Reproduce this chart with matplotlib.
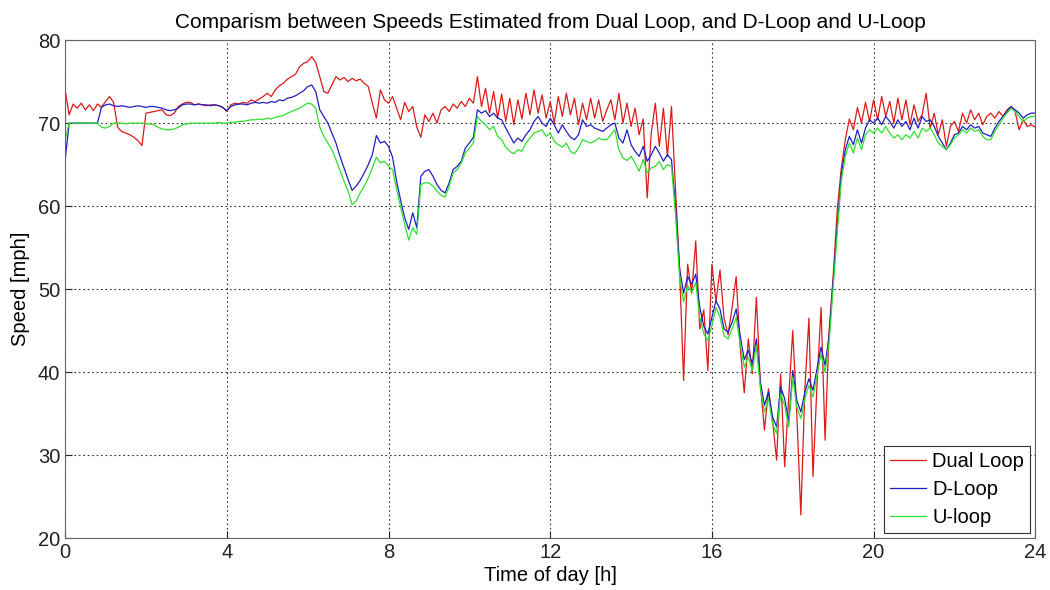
import numpy as np
import matplotlib.pyplot as plt

# time axis, one sample every 0.1 h
hours = np.round(np.arange(0, 24.05, 0.1), 1)

dual_loop = [
    74.0, 71.0, 72.3, 71.8, 72.4, 71.6, 72.2, 71.5, 72.3, 71.9,
    72.6, 73.2, 72.5, 69.5, 69.0, 68.8, 68.6, 68.3, 67.9, 67.3,
    71.2, 71.3, 71.4, 71.5, 71.6, 71.0, 70.9, 71.2, 72.0, 72.3,
    72.5, 72.5, 72.2, 72.3, 72.2, 72.1, 72.2, 72.2, 72.1, 71.9,
    71.4, 72.2, 72.4, 72.3, 72.5, 72.4, 72.8, 72.6, 72.9, 73.2,
    73.6, 73.2, 74.0, 74.5, 74.8, 75.3, 75.6, 75.9, 76.8, 77.2,
    77.4, 78.0, 77.3, 75.6, 73.8, 73.6, 74.6, 75.6, 75.2, 75.5,
    75.0, 75.4, 75.1, 75.3, 74.8, 74.4, 72.4, 70.6, 74.0, 72.8,
    72.4, 73.2, 71.8, 70.4, 72.5, 71.4, 72.0, 69.5, 68.3, 71.0,
    70.2, 71.2, 70.0, 71.6, 72.0, 71.4, 72.3, 71.8, 72.6, 72.0,
    73.0, 72.4, 75.6, 72.0, 74.2, 71.2, 73.8, 70.6, 73.5, 70.2,
    73.0, 69.8, 72.8, 70.5, 73.6, 71.0, 74.0, 71.2, 73.4, 70.6,
    72.6, 70.0, 73.2, 70.8, 73.6, 71.0, 73.0, 69.8, 72.4, 70.4,
    73.0, 70.6, 72.8, 70.2, 71.6, 72.8, 70.4, 73.6, 70.0, 72.4,
    69.6, 71.8, 68.6, 70.5, 61.0, 68.8, 72.4, 67.2, 71.8, 66.0,
    72.0, 62.0, 52.5, 39.0, 53.0, 49.5, 55.8, 45.2, 47.5, 40.2,
    53.0, 48.5, 52.3, 46.5, 44.5, 47.8, 51.5, 43.0, 37.5, 44.0,
    39.8, 49.0, 38.5, 33.0, 38.0, 34.2, 29.4, 39.8, 28.6, 37.0,
    45.0, 35.0, 22.8, 38.0, 46.5, 27.4, 38.5, 47.8, 31.8, 45.0,
    51.5, 59.5, 64.5, 68.0, 70.5, 69.2, 71.9, 70.0, 72.5, 70.2,
    72.8, 70.4, 73.2, 70.8, 72.6, 70.0, 73.0, 70.4, 72.8, 69.8,
    72.2, 70.2, 71.0, 73.6, 69.4, 71.2, 68.6, 70.4, 67.2, 69.6,
    70.2, 69.0, 71.2, 70.0, 71.6, 70.4, 71.2, 69.8, 70.8, 71.2,
    70.6, 71.4, 70.8, 71.6, 72.0, 71.4, 69.2, 70.4, 69.6, 69.8,
    69.5,
]

d_loop = [
    65.5, 70.0, 70.0, 70.0, 70.0, 70.0, 70.0, 70.0, 70.0, 71.9,
    72.2, 72.3, 72.1, 72.0, 72.1, 72.0, 71.9, 72.0, 72.1, 72.0,
    71.9, 72.0, 72.0, 71.9, 71.8, 71.6, 71.5, 71.6, 71.8, 72.2,
    72.3, 72.3, 72.2, 72.3, 72.2, 72.2, 72.1, 72.2, 72.1, 71.9,
    71.5, 72.0, 72.2, 72.3, 72.3, 72.2, 72.4, 72.5, 72.4, 72.5,
    72.4, 72.6, 72.5, 72.8, 72.7, 73.0, 73.1, 73.3, 73.6, 73.9,
    74.4, 74.6, 73.8, 71.6, 70.8, 70.0, 68.8, 67.6, 66.0, 64.6,
    63.2, 61.9, 62.4, 63.1, 64.0, 65.0, 66.2, 68.5, 67.6, 67.8,
    67.2, 65.9, 63.0, 60.7, 58.6, 57.2, 59.2, 57.4, 63.6, 64.2,
    64.4, 63.6, 62.6, 61.9, 61.6, 62.8, 64.4, 64.8, 65.4, 67.0,
    67.6, 68.3, 71.6, 71.2, 71.5, 70.8, 71.2, 70.6, 70.4, 69.4,
    68.5, 67.6, 68.2, 67.8, 68.6, 69.2, 70.2, 70.8, 70.0, 69.6,
    70.6, 69.8, 68.8, 69.8, 69.0, 68.3, 68.0, 68.6, 70.4, 69.6,
    69.8, 69.4, 69.2, 69.0, 69.4, 69.8, 70.0, 68.2, 67.6, 69.2,
    67.4, 66.6, 66.0, 67.2, 65.4, 66.2, 67.2, 66.4, 65.4, 66.2,
    65.6, 60.0, 52.5, 49.5, 51.5, 50.6, 51.8, 47.8, 45.5, 44.6,
    46.6, 48.6, 47.6, 45.2, 44.8, 46.0, 47.6, 44.4, 41.5, 42.6,
    41.0, 44.0, 38.8, 36.0, 37.6, 34.6, 33.4, 38.2, 36.8, 34.0,
    40.2, 36.6, 35.2, 37.6, 39.2, 37.8, 40.4, 43.0, 40.8, 44.5,
    51.0, 57.5, 63.8, 66.8, 68.4, 67.4, 69.2, 67.6, 69.4, 70.4,
    70.0, 70.6, 69.8, 70.8, 70.2, 69.4, 70.4, 69.6, 70.2, 69.2,
    70.6, 69.4, 70.8, 70.2, 70.4, 69.6, 68.4, 67.6, 66.8, 67.6,
    68.6, 68.8, 69.6, 69.2, 69.8, 69.4, 69.6, 68.8, 68.6, 68.4,
    69.4, 70.2, 70.8, 71.4, 72.0, 71.6, 71.2, 70.6, 71.0, 71.2,
    71.2,
]

u_loop = [
    68.0, 70.0, 70.0, 70.0, 70.0, 70.0, 70.0, 70.0, 70.0, 69.5,
    69.4, 69.6, 70.0, 70.0, 70.0, 69.9, 70.0, 70.0, 70.0, 70.0,
    69.9, 69.9, 69.8, 69.5, 69.3, 69.2, 69.2, 69.3, 69.5, 69.8,
    69.9, 70.0, 70.0, 70.0, 70.0, 70.0, 70.0, 70.0, 70.1, 70.0,
    70.0, 70.1, 70.1, 70.2, 70.2, 70.3, 70.4, 70.4, 70.5, 70.4,
    70.6, 70.5, 70.7, 70.8, 70.9, 71.2, 71.4, 71.6, 71.8, 72.1,
    72.4, 72.3, 71.8, 69.5, 68.4, 67.6, 66.8, 65.6, 64.3, 63.0,
    61.8, 60.2, 60.6, 61.6, 62.4, 63.4, 64.6, 65.9, 65.2, 65.4,
    64.8, 64.4, 62.0, 59.9, 57.8, 55.9, 57.4, 56.6, 62.6, 62.8,
    62.8, 62.4, 61.8, 61.3, 61.1, 62.4, 64.0, 64.4, 65.2, 66.4,
    67.0, 67.6, 70.8, 70.2, 69.8, 69.2, 69.6, 68.4, 68.0, 67.1,
    66.6, 66.3, 66.8, 66.6, 67.6, 68.2, 68.8, 69.0, 69.2, 68.4,
    68.8, 67.8, 67.4, 67.1, 67.6, 66.6, 66.3, 67.0, 68.0, 67.8,
    67.6, 67.8, 68.2, 68.0, 68.0, 68.6, 69.2, 66.8, 65.8, 65.5,
    66.0, 65.2, 64.2, 65.6, 64.0, 64.6, 64.8, 65.4, 64.4, 65.0,
    64.8, 59.0, 51.5, 48.5, 50.4, 49.6, 50.8, 46.6, 44.6, 43.8,
    45.6, 47.8, 46.6, 44.4, 44.0, 45.2, 46.6, 43.4, 40.6, 41.8,
    40.2, 43.2, 38.0, 35.2, 36.8, 33.8, 32.6, 37.4, 36.0, 33.4,
    39.4, 35.8, 34.4, 36.8, 38.4, 37.0, 39.6, 42.2, 40.0, 43.6,
    50.2, 56.8, 63.0, 66.0, 67.6, 66.4, 68.2, 66.8, 68.6, 69.2,
    68.8, 69.4, 68.8, 69.6, 68.8, 68.2, 68.6, 68.0, 68.6, 68.2,
    69.0, 68.2, 69.4, 69.0, 69.4, 68.6, 67.6, 67.2, 66.8, 67.4,
    68.2, 68.6, 69.2, 68.8, 69.4, 69.0, 69.2, 68.4, 68.0, 68.0,
    69.0, 69.8, 70.6, 71.2, 71.8, 71.4, 70.8, 70.2, 70.6, 70.8,
    70.8,
]

x_ticks = [0, 4, 8, 12, 16, 20, 24]
y_ticks = [20, 30, 40, 50, 60, 70, 80]

plt.rcParams['font.family'] = ['Liberation Sans', 'DejaVu Sans']

fig = plt.figure(figsize=(10.5, 5.9), dpi=100)
ax = fig.add_axes([0.062, 0.088, 0.924, 0.844])

ax.plot(hours, dual_loop, color='#dc1a1a', lw=0.9, label='Dual Loop')
ax.plot(hours, d_loop, color='#1f1fc4', lw=0.9, label='D-Loop')
ax.plot(hours, u_loop, color='#2ee02e', lw=0.9, label='U-loop')

ax.set_xlim(0, 24)
ax.set_ylim(20, 80)
ax.set_xticks(x_ticks)
ax.set_yticks(y_ticks)
ax.tick_params(direction='in', length=5, labelsize=14.5, colors='#222222')
ax.grid(True, linestyle=(0, (1.5, 2.5)), color='#333333', linewidth=0.8)
for s in ax.spines.values():
    s.set_color('#666666')

ax.set_title('Comparism between Speeds Estimated from Dual Loop, and D-Loop and U-Loop',
             fontsize=15, pad=9)
ax.set_xlabel('Time of day [h]', fontsize=14.5, labelpad=3)
ax.set_ylabel('Speed [mph]', fontsize=14.5, labelpad=6)

leg = ax.legend(loc='lower right', fontsize=14.5, fancybox=False, framealpha=1,
                edgecolor='#333333', handlelength=1.8, handletextpad=0.3,
                borderpad=0.3, labelspacing=0.45, borderaxespad=0.25)
leg.get_frame().set_linewidth(0.8)

fig.savefig('out.png', dpi=100)
